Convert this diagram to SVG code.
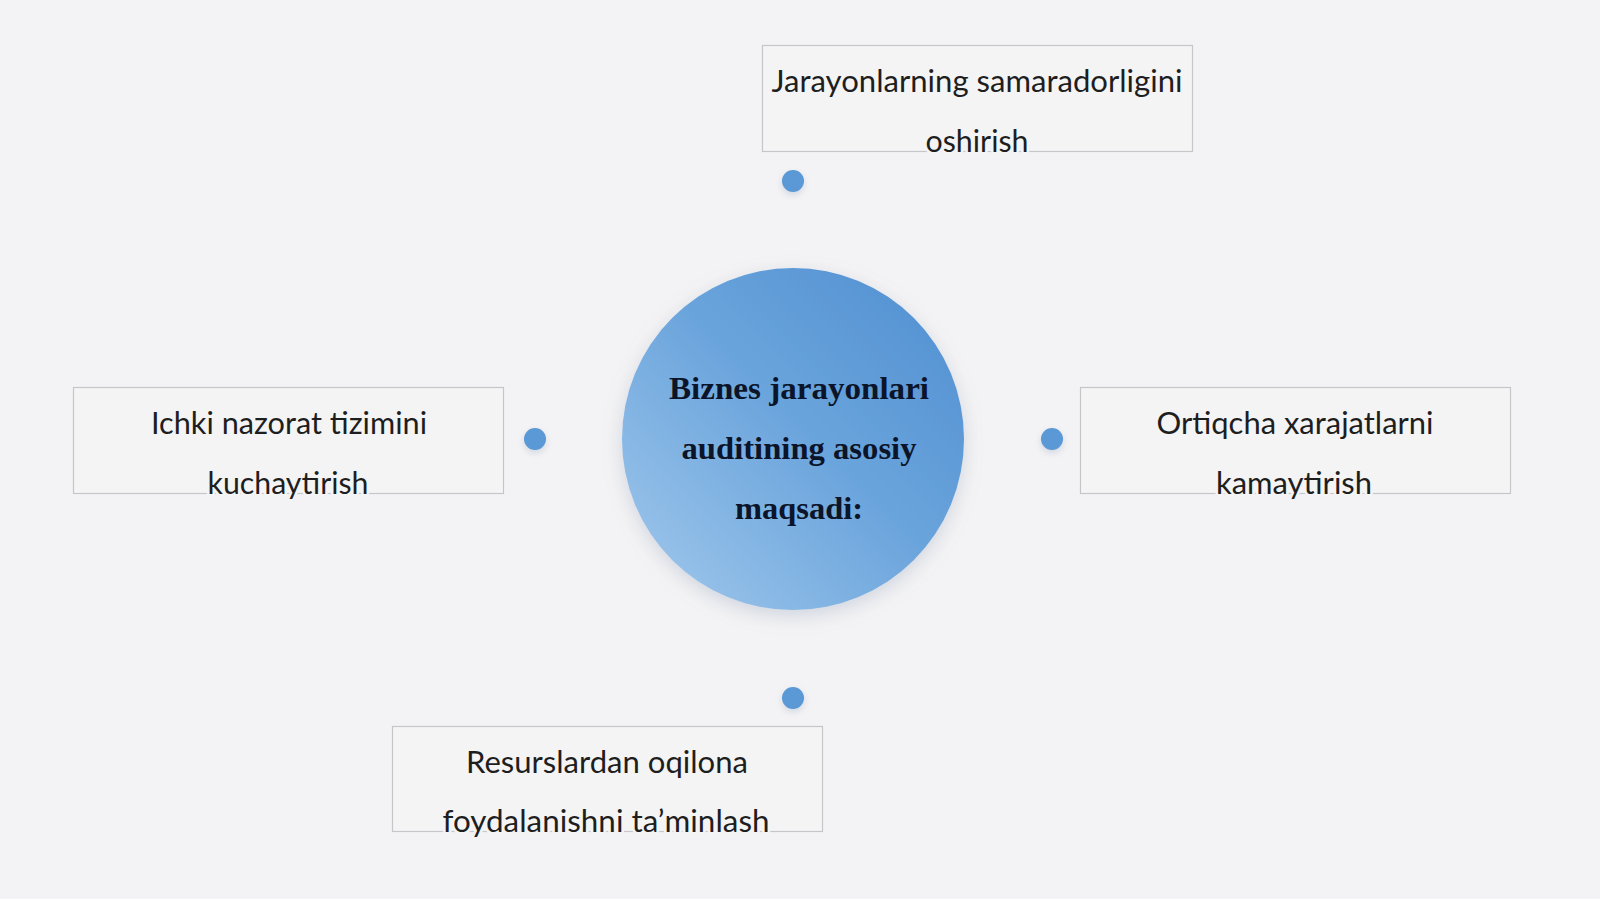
<svg xmlns="http://www.w3.org/2000/svg" width="1600" height="899" viewBox="0 0 1600 899">
<defs>
<linearGradient id="cg" x1="0.15" y1="0.85" x2="0.85" y2="0.15">
<stop offset="0" stop-color="#93bfe8"/>
<stop offset="0.55" stop-color="#6aa4dc"/>
<stop offset="1" stop-color="#5895d4"/>
</linearGradient>
<filter id="sh" x="-30%" y="-30%" width="160%" height="160%">
<feDropShadow dx="0" dy="6" stdDeviation="9" flood-color="#8fa3b8" flood-opacity="0.35"/>
</filter>
<filter id="dsh" x="-80%" y="-80%" width="260%" height="260%">
<feDropShadow dx="0" dy="3" stdDeviation="3" flood-color="#9fb3c8" flood-opacity="0.4"/>
</filter>
<style>
.box{fill:#f4f4f5;stroke:#c6c6ca;stroke-width:1.2}
.lbl{font-family:Lato,"Open Sans","Liberation Sans",sans-serif;font-size:30px;fill:#1e1e1e;text-anchor:middle;stroke:#f4f4f5;stroke-width:5;paint-order:stroke;stroke-linejoin:round}
.ctr{font-family:"Liberation Serif","Times New Roman",serif;font-weight:bold;font-size:31px;fill:#0b1428;text-anchor:middle}
.dot{fill:#5a98d6;filter:url(#dsh)}
</style>
</defs>
<rect width="1600" height="899" fill="#f3f2f4"/>
<g id="connectors"/>
<g id="center">
<circle cx="793" cy="439" r="171" fill="url(#cg)" filter="url(#sh)"/>
<text class="ctr" x="799" y="399" textLength="260" lengthAdjust="spacingAndGlyphs">Biznes jarayonlari</text>
<text class="ctr" x="799" y="459" textLength="235" lengthAdjust="spacingAndGlyphs">auditining asosiy</text>
<text class="ctr" x="799" y="519" textLength="128" lengthAdjust="spacingAndGlyphs">maqsadi:</text>
</g>
<g id="node-top">
<rect class="box" x="762.5" y="45.5" width="430" height="106"/>
<text class="lbl" x="977" y="92" textLength="411" lengthAdjust="spacingAndGlyphs">Jarayonlarning samaradorligini</text>
<text class="lbl" x="977" y="152" textLength="103" lengthAdjust="spacingAndGlyphs">oshirish</text>
</g>
<g id="node-left">
<rect class="box" x="73.5" y="387.5" width="430" height="106"/>
<text class="lbl" x="289" y="434" textLength="276" lengthAdjust="spacingAndGlyphs">Ichki nazorat tizimini</text>
<text class="lbl" x="288" y="494" textLength="161" lengthAdjust="spacingAndGlyphs">kuchaytirish</text>
</g>
<g id="node-right">
<rect class="box" x="1080.5" y="387.5" width="430" height="106"/>
<text class="lbl" x="1295" y="434" textLength="277" lengthAdjust="spacingAndGlyphs">Ortiqcha xarajatlarni</text>
<text class="lbl" x="1294" y="494" textLength="156" lengthAdjust="spacingAndGlyphs">kamaytirish</text>
</g>
<g id="node-bottom">
<rect class="box" x="392.5" y="726.5" width="430" height="105"/>
<text class="lbl" x="607" y="773" textLength="282" lengthAdjust="spacingAndGlyphs">Resurslardan oqilona</text>
<text class="lbl" x="606" y="832" textLength="327" lengthAdjust="spacingAndGlyphs">foydalanishni ta’minlash</text>
</g>
<g id="dots">
<circle class="dot" cx="793" cy="181" r="11"/>
<circle class="dot" cx="535" cy="439" r="11"/>
<circle class="dot" cx="1052" cy="439" r="11"/>
<circle class="dot" cx="793" cy="698" r="11"/>
</g>
</svg>
